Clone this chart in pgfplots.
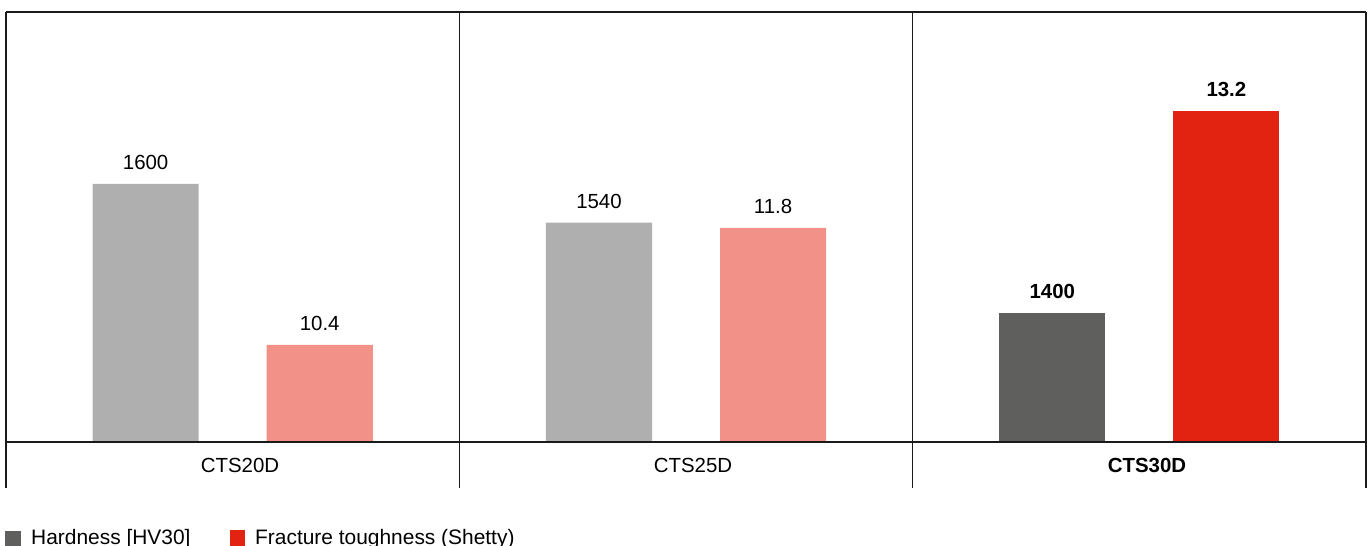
\documentclass[border=0pt]{standalone}
\usepackage{pgfplots}
\pgfplotsset{compat=1.18}
\usepackage{fontspec}
\setmainfont{Liberation Sans}
\definecolor{hardlight}{HTML}{AFAFAF}
\definecolor{harddark}{HTML}{5F5F5D}
\definecolor{toughlight}{HTML}{F29187}
\definecolor{toughdark}{HTML}{E32311}
\definecolor{frame}{HTML}{1A1A1A}

\newcommand\lbl{\fontsize{20.5}{20.5}\selectfont}

\begin{document}
\begin{tikzpicture}[x=1bp, y=1bp]
% one axis, 0..1 in height; each series mapped onto it from its own scale
% hardness: 1200 .. 1866.7, fracture toughness: 9.239 .. 14.384
\begin{axis}[
    scale only axis, width=1360bp, height=430bp,
    xmin=0, xmax=3, ymin=0, ymax=1,
    hide axis, clip=false,
    ybar, bar width=0.234, bar shift=0pt,
    nodes near coords, point meta=rawy,
    /pgf/number format/1000 sep={},
    /pgf/number format/assume math mode=true,
    every node near coord/.append style={font=\lbl, inner sep=0pt, yshift=14bp, text=black},
    hard/.style={y filter/.expression={(y-1200)/666.7}},
    tough/.style={y filter/.expression={(y-9.239)/5.145}},
]
\addplot[hard, fill=hardlight, draw=none] coordinates {(0.308,1600) (1.308,1540)};
\addplot[hard, fill=harddark, draw=none,
  every node near coord/.append style={font=\lbl\bfseries}]
  coordinates {(2.308,1400)};
\addplot[tough, fill=toughlight, draw=none] coordinates {(0.692,10.4) (1.692,11.8)};
\addplot[tough, fill=toughdark, draw=none,
  every node near coord/.append style={font=\lbl\bfseries}]
  coordinates {(2.692,13.2)};
\coordinate (O) at (rel axis cs:0,0);
\end{axis}

\begin{scope}[shift={(O)}]
\begin{scope}[shift={(-6,-104)}]
% frame
\draw[frame, line width=1.1bp] (6,534) -- (1366,534);
\draw[frame, line width=1.1bp] (6,104) -- (1366,104);
\foreach \xx in {6, 459.33, 912.67, 1366}
  \draw[frame, line width=1.1bp] (\xx,534) -- (\xx,58);

% categories
\node[anchor=base, inner sep=0pt, font=\lbl] at (240,73.3) {CTS20D};
\node[anchor=base, inner sep=0pt, font=\lbl] at (693,73.3) {CTS25D};
\node[anchor=base, inner sep=0pt, font=\lbl\bfseries] at (1147,73.3) {CTS30D};

% legend
\fill[harddark] (5,-1) rectangle (21,15);
\node[anchor=base west, inner sep=0pt, font=\fontsize{21}{21}\selectfont] at (31,1) {Hardness [HV30]};
\fill[toughdark] (230,-1) rectangle (245,16);
\node[anchor=base west, inner sep=0pt, font=\fontsize{21}{21}\selectfont] at (255,1) {Fracture toughness (Shetty)};

\pgfresetboundingbox
\path[use as bounding box] (0,0) rectangle (1368,546);
\end{scope}
\end{scope}
\end{tikzpicture}
\end{document}
